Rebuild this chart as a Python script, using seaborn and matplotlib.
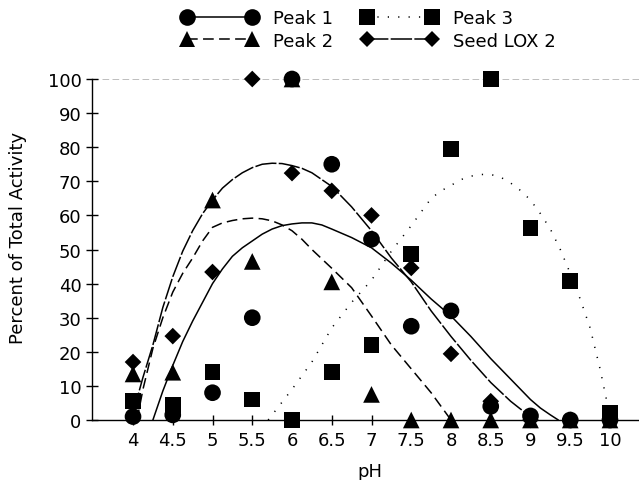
import matplotlib
matplotlib.use("Agg")
import matplotlib.pyplot as plt
import seaborn as sns
from matplotlib.lines import Line2D

# measured points (percent of total activity at each pH)
ph = [4, 4.5, 5, 5.5, 6, 6.5, 7, 7.5, 8, 8.5, 9, 9.5, 10]
peak1 = [1, 1.5, 8, 30, 100, 75, 53, 27.5, 32, 4, 1.2, 0, 0]
peak2 = [13.5, 14, 64.5, 46.5, 100, 40.5, 7.5, 0, 0, 0, 0, 0, 0]
peak3 = [5.5, 4.5, 14, 6, 0, 14, 22, 48.7, 79.5, 100, 56.3, 40.8, 2]
seed = [17, 24.6, 43.4, 100, 72.4, 67.2, 60, 44.6, 19.4, 5.5, 0, 0, 0]

# fitted curves
p1_fit_ph = [4.25, 4.375, 4.5, 4.625, 4.75, 4.875, 5, 5.125, 5.25, 5.375, 5.5,
             5.625, 5.75, 5.875, 6, 6.125, 6.25, 6.375, 6.5, 6.75, 7, 7.25,
             7.5, 7.75, 8, 8.25, 8.5, 8.75, 9, 9.125, 9.25, 9.35]
p1_fit = [0, 8.5, 16, 23, 29, 34.5, 40, 44.3, 48, 50.5, 52.5,
          54.5, 56, 57, 57.5, 57.8, 57.8, 57.2, 56, 53.5, 50.5, 46,
          41, 35.5, 30.5, 24.5, 18, 12, 6, 3.5, 1.5, 0]

p2_fit_ph = [4.05, 4.125, 4.25, 4.375, 4.5, 4.625, 4.75, 4.875, 5, 5.125, 5.25,
             5.375, 5.5, 5.625, 5.75, 5.875, 6, 6.125, 6.25, 6.5, 6.75,
             7, 7.25, 7.5, 7.75, 8]
p2_fit = [0, 9, 21, 30, 37.5, 43, 47.5, 52.5, 56.5, 57.8, 58.5,
          59, 59.2, 59, 58.4, 57.2, 55.5, 53, 50, 44.5, 38.8,
          30.5, 22, 15, 8, 0]

p3_fit_ph = [5.7, 5.85, 6, 6.25, 6.5, 6.75, 7, 7.25, 7.5, 7.75, 7.875, 8,
             8.125, 8.25, 8.375, 8.5, 8.625, 8.75, 8.875, 9, 9.125, 9.25,
             9.375, 9.5, 9.625, 9.75, 9.875, 10]
p3_fit = [0, 4.5, 9, 17, 27, 34.5, 41, 49.5, 57, 65, 67.2, 68.8,
          70.5, 71.5, 72, 72, 71.2, 69.5, 67.3, 64.5, 60.5, 56,
          50, 43, 35.5, 27, 15, 1]

seed_fit_ph = [4.0, 4.125, 4.25, 4.375, 4.5, 4.625, 4.75, 4.875, 5, 5.125,
               5.25, 5.375, 5.5, 5.625, 5.75, 5.875, 6, 6.125, 6.25, 6.5,
               6.75, 7, 7.25, 7.5, 7.75, 8, 8.25, 8.5, 8.75, 8.875, 9, 9.05]
seed_fit = [2, 12.5, 22, 33, 42, 49.5, 55.5, 60.5, 64.5, 68,
            70.5, 72.5, 74, 75, 75.3, 75.2, 74.6, 73.8, 72.5, 68.5,
            62.5, 55.5, 47.5, 40.5, 32, 24.5, 17.5, 11, 5.5, 3.2, 1.2, 0]

xticks = [4, 4.5, 5, 5.5, 6, 6.5, 7, 7.5, 8, 8.5, 9, 9.5, 10]
xticklabels = ["4", "4.5", "5", "5.5", "6", "6.5", "7", "7.5", "8", "8.5", "9", "9.5", "10"]

sns.set_style("ticks")
plt.rcParams['font.family'] = ['DejaVu Sans']
plt.rcParams.update({"text.color": "black", "axes.labelcolor": "black",
                     "xtick.color": "black", "ytick.color": "black",
                     "axes.edgecolor": "black"})

fig = plt.figure(figsize=(6.39, 4.81), dpi=100)
ax = fig.add_axes([92 / 639, 60 / 481, 547 / 639, 341 / 481])

styles = {
    "Peak 1": ("-", "o", 144),
    "Peak 2": ((0, (7, 3.5)), "^", 144),
    "Peak 3": ((0, (0.8, 6)), "s", 130),
    "Seed LOX 2": ((0, (14, 1.5)), "D", 72),
}
curves = {
    "Peak 1": (p1_fit_ph, p1_fit, peak1),
    "Peak 2": (p2_fit_ph, p2_fit, peak2),
    "Peak 3": (p3_fit_ph, p3_fit, peak3),
    "Seed LOX 2": (seed_fit_ph, seed_fit, seed),
}
order = {"Peak 1": 5, "Peak 2": 3, "Peak 3": 4, "Seed LOX 2": 4}

ax.axhline(100, color="0.7", lw=0.6, ls=(0, (8, 4)), zorder=0)

for name, (fx, fy, pts) in curves.items():
    ls, mk, size = styles[name]
    sns.lineplot(x=fx, y=fy, ax=ax, color="black", lw=1.1, linestyle=ls)
    sns.scatterplot(x=ph, y=pts, ax=ax, marker=mk, s=size, color="black",
                    edgecolor="none", linewidth=0, clip_on=False, zorder=order[name])

ax.set_xlim(3.484, 10.365)
ax.set_ylim(0, 100)
ax.set_xticks(xticks)
ax.set_xticklabels(xticklabels)
ax.set_yticks(range(0, 101, 10))
sns.despine(ax=ax)
for sp in ["left", "bottom"]:
    ax.spines[sp].set_linewidth(1.0)
ax.tick_params(axis="y", direction="inout", length=9, width=1, labelsize=13, pad=3)
ax.tick_params(axis="x", direction="inout", length=6.5, width=1, labelsize=13, pad=5)

ax.set_xlabel("pH", fontsize=13)
ax.set_ylabel("Percent of Total Activity", fontsize=13)
ax.xaxis.set_label_coords(0.508, -0.123)
ax.yaxis.set_label_coords(-0.118, 0.537)

handles = []
for name in ["Peak 1", "Peak 2", "Peak 3", "Seed LOX 2"]:
    ls, mk, size = styles[name]
    handles.append(Line2D([], [], color="black", lw=1.1, linestyle=ls, marker=mk,
                          markersize=size ** 0.5, markeredgewidth=0))
fig.legend(handles, ["Peak 1", "Peak 2", "Peak 3", "Seed LOX 2"], ncol=2,
           loc="center left", bbox_to_anchor=(0.284, 0.937), frameon=False,
           fontsize=13, numpoints=2, handlelength=4.2, handletextpad=0.85,
           columnspacing=1.6, borderpad=0, borderaxespad=0, labelspacing=0.25)

fig.savefig("out.png", dpi=100)
